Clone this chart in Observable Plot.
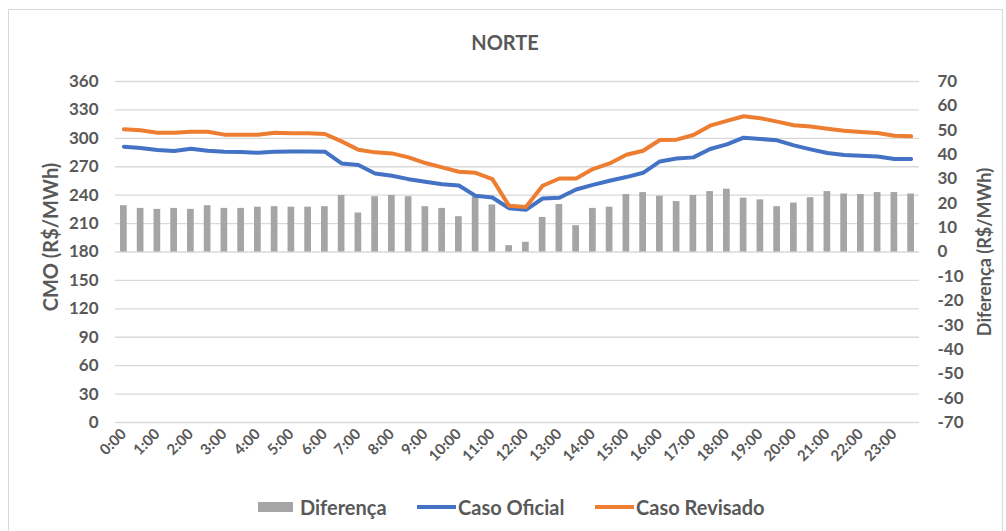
<!DOCTYPE html>
<html>
<head>
<meta charset="utf-8">
<script src="https://cdn.jsdelivr.net/npm/d3@7"></script>
<script src="https://cdn.jsdelivr.net/npm/@observablehq/plot@0.6"></script>
<style>
  html, body { margin: 0; padding: 0; background: #fff; }
  body { width: 1006px; height: 531px; overflow: hidden; position: relative; font-family: Lato, "Open Sans", sans-serif; color: #595959; }
  #frame { position: absolute; left: 8px; top: 9px; width: 995px; height: 540px; border: 1px solid #d9d9d9; box-sizing: border-box; }
  #title { position: absolute; left: 0; top: 0; width: 1010px; height: 60px; box-sizing: border-box; padding-top: 31px; text-align: center; font-size: 20px; font-weight: bold; line-height: 22px; }
  #chart { position: absolute; left: 0; top: 60px; }
  .ytitle { position: absolute; width: 300px; height: 26px; line-height: 26px; text-align: center; font-weight: bold; transform: rotate(-90deg); white-space: nowrap; }
  #legend { position: absolute; left: 0; top: 495px; width: 1006px; height: 26px; font-size: 20px; font-weight: bold; }
  #legend span { position: absolute; }
  .lt { top: 0px; line-height: 24px; }
</style>
</head>
<body>
<div id="frame"></div>
<div id="title">NORTE</div>
<div id="chart"></div>
<div class="ytitle" style="left:-100px; top:224px; font-size:20px;">CMO (R$/MWh)</div>
<div class="ytitle" style="left:834px; top:238.5px; font-size:18px;">Diferença (R$/MWh)</div>
<div id="legend">
  <span style="left:258px;top:7px;width:35px;height:10px;background:#a5a5a5"></span>
  <span class="lt" style="left:300px">Diferença</span>
  <span style="left:417px;top:10px;width:39px;height:4px;background:#4472c4"></span>
  <span class="lt" style="left:458px">Caso Oficial</span>
  <span style="left:595px;top:10px;width:39px;height:4px;background:#ed7d31"></span>
  <span class="lt" style="left:636px">Caso Revisado</span>
</div>
<script>
const times = ["0:00","0:30","1:00","1:30","2:00","2:30","3:00","3:30","4:00","4:30","5:00","5:30",
  "6:00","6:30","7:00","7:30","8:00","8:30","9:00","9:30","10:00","10:30","11:00","11:30",
  "12:00","12:30","13:00","13:30","14:00","14:30","15:00","15:30","16:00","16:30","17:00","17:30",
  "18:00","18:30","19:00","19:30","20:00","20:30","21:00","21:30","22:00","22:30","23:00","23:30"];
const casoOficial = [291.2,289.8,287.6,286.6,289.1,287.0,285.9,285.5,284.8,285.9,286.2,286.2,
  285.9,273.5,271.8,262.9,260.5,256.9,254.1,251.6,250.2,239.3,237.5,226.2,
  224.5,236.5,237.2,246.0,250.9,255.2,259.1,263.6,275.6,278.8,279.9,288.7,
  293.6,300.7,299.3,297.9,292.6,288.4,284.5,282.4,281.6,280.9,278.1,278.1];
const casoRevisado = [309.5,308.5,306.0,306.0,307.0,307.0,303.9,303.9,303.9,306.0,305.3,305.3,
  304.6,296.8,288.0,285.2,284.1,279.9,273.9,269.3,264.7,263.6,256.9,228.7,
  227.6,249.9,257.6,257.6,267.5,273.5,282.7,286.9,298.2,298.6,303.5,313.4,
  318.4,323.3,321.2,317.6,313.8,312.4,310.2,308.1,306.7,305.6,302.8,302.1];
const diferenca = [19.0,17.9,17.5,17.9,17.5,19.0,17.9,17.9,18.4,18.6,18.4,18.4,
  18.6,23.2,16.0,22.7,23.2,22.7,18.6,17.9,14.5,22.7,19.3,2.6,
  4.0,14.2,19.5,10.8,17.9,18.4,23.6,24.4,22.9,20.7,23.2,24.8,
  25.8,22.1,21.4,18.6,20.1,22.3,24.8,23.8,23.6,24.4,24.4,23.8];
const leftTicks = [0,30,60,90,120,150,180,210,240,270,300,330,360];
const rightTicks = [-70,-60,-50,-40,-30,-20,-10,0,10,20,30,40,50,60,70];
const hourTicks = times.filter(t => t.endsWith(":00"));

const data = times.map((t, i) => ({time: t, oficial: casoOficial[i], revisado: casoRevisado[i], dif: diferenca[i]}));
// right axis (-70..70) mapped onto left axis (0..360)
const toLeft = v => 180 + v * 180 / 70;
const fromLeft = v => Math.round((v - 180) * 70 / 180);

const font = "Lato, 'Open Sans', sans-serif";
const chart = Plot.plot({
  width: 1006,
  height: 420,
  marginTop: 21,
  marginBottom: 58,
  marginLeft: 115,
  marginRight: 87,
  style: {fontFamily: font, color: "#595959", background: "transparent"},
  x: {type: "band", domain: times, paddingInner: 0.6, paddingOuter: 0.3},
  y: {domain: [0, 360]},
  marks: [
    Plot.ruleY(leftTicks, {stroke: "#d9d9d9", strokeWidth: 1.3}),
    Plot.barY(data, {x: "time", y1: d => 180, y2: d => toLeft(d.dif), fill: "#a5a5a5"}),
    Plot.lineY(data, {x: "time", y: "oficial", stroke: "#4472c4", strokeWidth: 4, strokeLinejoin: "round", strokeLinecap: "round"}),
    Plot.lineY(data, {x: "time", y: "revisado", stroke: "#ed7d31", strokeWidth: 4, strokeLinejoin: "round", strokeLinecap: "round"}),
    Plot.axisY(leftTicks, {anchor: "left", tickSize: 0, tickPadding: 17, label: null, fontSize: 17, fontWeight: "bold", fill: "#595959"}),
    Plot.axisY(rightTicks.map(toLeft), {anchor: "right", tickSize: 0, tickPadding: 18, label: null, tickFormat: fromLeft, fontSize: 17, fontWeight: "bold", fill: "#595959"}),
    Plot.axisX(hourTicks, {anchor: "bottom", tickSize: 0, tickPadding: 9, tickRotate: -45, label: null, fontSize: 15, fontWeight: "bold", fill: "#595959"})
  ]
});
document.getElementById("chart").appendChild(chart);
</script>
</body>
</html>
